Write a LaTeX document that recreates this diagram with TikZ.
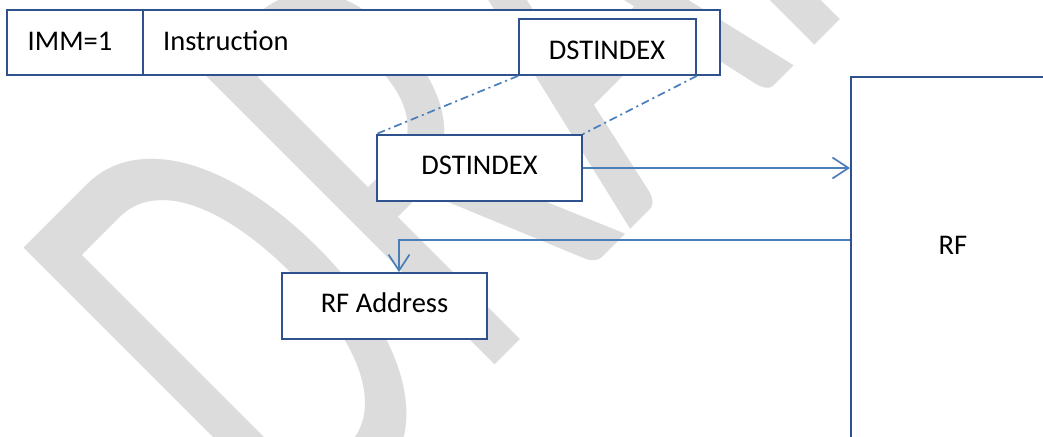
\documentclass[tikz,border=0pt]{standalone}
\usepackage{fontspec}
\setmainfont{Carlito}
\usetikzlibrary{arrows.meta}
\definecolor{boxblue}{RGB}{47,82,143}
\definecolor{lineblue}{RGB}{74,126,187}
\definecolor{wmgray}{RGB}{220,220,220}
\tikzset{
  box/.style={draw=boxblue, line width=1.8pt, fill=white, rectangle, inner sep=0pt},
  lbl/.style={font=\fontsize{28.5}{34}\selectfont, text=black, inner sep=0pt},
  conn/.style={draw=lineblue, line width=1.7pt},
  tipped/.style={-{Straight Barb[length=16pt,width=21pt]}},
  dashdot/.style={draw=lineblue, line width=1.7pt, dash pattern=on 8pt off 4pt on 2pt off 4pt},
}
\begin{document}
\begin{tikzpicture}[x=1pt,y=-1pt]
\useasboundingbox (0,0) rectangle (1043,436);
\fill[white] (0,0) rectangle (1043,436);
\begin{scope}
  \clip (0,0) rectangle (1043,436);
  \node[rotate=45, yscale=1.6, anchor=base west, text=wmgray, font=\fontsize{405}{405}\selectfont, inner sep=0pt] (wmark) at (298,562) {DRAFT};
\end{scope}
% instruction bar
\node[box, minimum width=136, minimum height=65] (imm) at (75,42.5) {};
\node[box, minimum width=577, minimum height=65] (instr) at (431.5,42.5) {};
\node[lbl] (immt) at (70,41) {IMM=1};
\node[lbl, anchor=west] (instrt) at (163,41) {Instruction};
\node[box, minimum width=177, minimum height=56] (dsta) at (607.5,47) {};
\node[lbl] (dstat) at (607,50.5) {DSTINDEX};
% middle
\node[box, minimum width=205, minimum height=66] (dstb) at (479.5,168) {};
\node[lbl] (dstbt) at (479.5,165) {DSTINDEX};
% RF address
\node[box, minimum width=205, minimum height=66] (addr) at (384.5,306) {};
\node[lbl] (addrt) at (384.5,303) {RF Address};
% RF
\node[box, anchor=north west, minimum width=220, minimum height=400] (rf) at (850,76) {};
\node[lbl] (rft) at (953,245) {RF};
% connectors
\draw[dashdot] (dsta.south west) -- (dstb.north west);
\draw[dashdot] (dsta.south east) -- (dstb.north east);
\draw[conn, tipped] (dstb.east) -- (dstb.east -| rf.west);
\coordinate (turn) at (399,240);
\draw[conn, tipped] (rf.west |- turn) -- (turn) -- (turn |- addr.north);
\end{tikzpicture}
\end{document}
